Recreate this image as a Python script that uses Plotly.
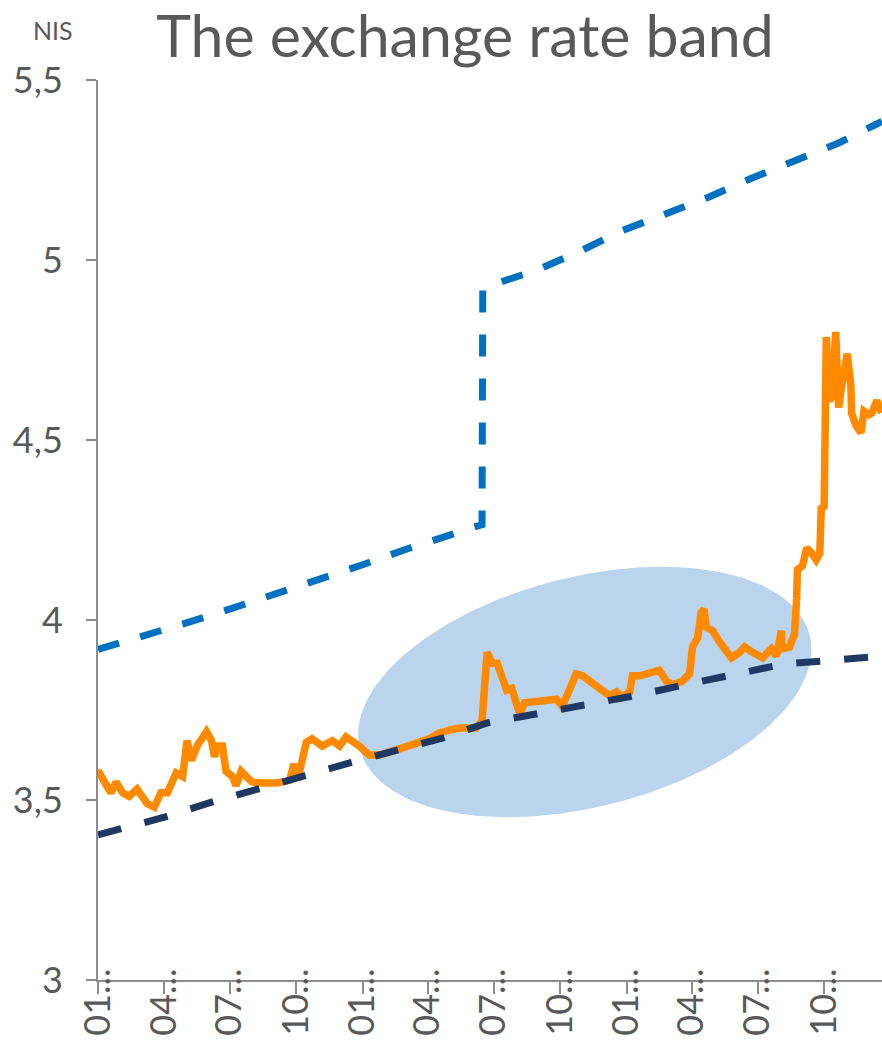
import numpy as np
import pandas as pd
import plotly.graph_objects as go

# Exchange rate, NIS (1996-1998)
rate_dates = [
    "1996-01-01", "1996-01-03", "1996-01-10", "1996-01-19", "1996-01-26", "1996-02-04",
    "1996-02-13", "1996-02-24", "1996-03-09", "1996-03-19", "1996-03-28", "1996-04-06",
    "1996-04-18", "1996-04-27", "1996-05-03", "1996-05-09", "1996-05-17", "1996-05-30",
    "1996-06-06", "1996-06-10", "1996-06-14", "1996-06-21", "1996-06-26", "1996-07-05",
    "1996-07-10", "1996-07-17", "1996-07-24", "1996-08-01", "1996-08-15", "1996-09-04",
    "1996-09-22", "1996-09-28", "1996-10-03", "1996-10-15", "1996-10-23", "1996-11-06",
    "1996-11-20", "1996-11-30", "1996-12-09", "1996-12-18", "1996-12-27", "1997-01-10",
    "1997-01-24", "1997-02-07", "1997-02-21", "1997-03-07", "1997-03-20", "1997-04-03",
    "1997-04-17", "1997-05-01", "1997-05-15", "1997-06-07", "1997-06-15", "1997-06-22",
    "1997-06-29", "1997-07-06", "1997-07-12", "1997-07-19", "1997-07-26", "1997-08-01",
    "1997-08-06", "1997-08-13", "1997-08-22", "1997-09-02", "1997-09-12", "1997-09-26",
    "1997-10-04", "1997-10-14", "1997-10-23", "1997-11-01", "1997-11-10", "1997-11-20",
    "1997-11-28", "1997-12-08", "1997-12-18", "1997-12-26", "1998-01-05", "1998-01-09",
    "1998-01-19", "1998-02-01", "1998-02-15", "1998-02-25", "1998-03-05", "1998-03-19",
    "1998-03-29", "1998-04-02", "1998-04-09", "1998-04-14", "1998-04-18", "1998-04-21",
    "1998-04-30", "1998-05-09", "1998-05-19", "1998-05-26", "1998-06-06", "1998-06-13",
    "1998-06-24", "1998-07-08", "1998-07-20", "1998-07-27", "1998-08-03", "1998-08-04",
    "1998-08-14", "1998-08-21", "1998-08-24", "1998-08-25", "1998-09-01", "1998-09-07",
    "1998-09-14", "1998-09-20", "1998-09-25", "1998-09-27", "1998-10-01", "1998-10-04",
    "1998-10-08", "1998-10-12", "1998-10-17", "1998-10-21", "1998-10-26", "1998-11-02",
    "1998-11-07", "1998-11-08", "1998-11-14", "1998-11-21", "1998-11-25", "1998-12-02",
    "1998-12-06", "1998-12-13", "1998-12-19",
]
rate_values = [
    3.575, 3.575, 3.55, 3.52, 3.55, 3.52,
    3.51, 3.53, 3.49, 3.48, 3.52, 3.52,
    3.575, 3.565, 3.665, 3.61, 3.65, 3.69,
    3.665, 3.62, 3.65, 3.65, 3.58, 3.565,
    3.54, 3.58, 3.565, 3.55, 3.547, 3.547,
    3.555, 3.60, 3.555, 3.66, 3.67, 3.65,
    3.665, 3.65, 3.675, 3.665, 3.65, 3.625,
    3.625, 3.633, 3.644, 3.653, 3.66, 3.67,
    3.686, 3.694, 3.70, 3.70, 3.72, 3.91,
    3.88, 3.88, 3.84, 3.805, 3.81, 3.77,
    3.74, 3.77, 3.772, 3.77, 3.772, 3.78,
    3.76, 3.805, 3.85, 3.845, 3.83, 3.82,
    3.80, 3.79, 3.80, 3.786, 3.80, 3.845,
    3.845, 3.85, 3.86, 3.83, 3.82, 3.83,
    3.85, 3.925, 3.95, 4.02, 4.03, 3.98,
    3.97, 3.94, 3.91, 3.895, 3.91, 3.925,
    3.91, 3.895, 3.92, 3.90, 3.97, 3.92,
    3.925, 3.96, 4.06, 4.14, 4.15, 4.20,
    4.185, 4.167, 4.185, 4.31, 4.315, 4.786,
    4.61, 4.62, 4.80, 4.59, 4.66, 4.74,
    4.65, 4.575, 4.54, 4.52, 4.58, 4.57,
    4.575, 4.61, 4.575,
]

# Upper limit of the band
upper_dates = [
    "1996-01-01", "1996-03-01", "1996-04-29", "1996-07-01", "1996-09-01", "1996-11-02",
    "1997-01-03", "1997-03-07", "1997-05-06", "1997-06-15", "1997-06-16", "1997-06-27",
    "1997-08-27", "1997-10-24", "1997-12-24", "1998-02-22", "1998-04-25", "1998-06-20",
    "1998-08-21", "1998-10-21", "1998-12-10", "1998-12-20",
]
upper_values = [
    3.918, 3.953, 3.99, 4.03, 4.07, 4.11,
    4.155, 4.20, 4.24, 4.265, 4.92, 4.93,
    4.97, 5.02, 5.08, 5.125, 5.175, 5.225,
    5.275, 5.325, 5.375, 5.385,
]

# Lower limit of the band
lower_dates = [
    "1996-01-01", "1996-04-03", "1996-06-06", "1996-08-10", "1996-10-12", "1996-12-14",
    "1997-02-14", "1997-04-21", "1997-06-22", "1997-09-02", "1997-11-10", "1998-01-13",
    "1998-03-22", "1998-05-30", "1998-08-07", "1998-10-17", "1998-12-20",
]
lower_values = [
    3.403, 3.453, 3.494, 3.533, 3.567, 3.603,
    3.638, 3.672, 3.714, 3.739, 3.764, 3.79,
    3.82, 3.85, 3.878, 3.889, 3.90,
]

# Axis ticks
tick_dates = [
    "1996-01-01", "1996-04-01", "1996-07-01", "1996-10-01",
    "1997-01-01", "1997-04-01", "1997-07-01", "1997-10-01",
    "1998-01-01", "1998-04-01", "1998-07-01", "1998-10-01",
]
tick_text = ["01...", "04...", "07...", "10..."] * 3
y_tick_vals = [3, 3.5, 4, 4.5, 5, 5.5]
y_tick_text = ["3", "3,5", "4", "4,5", "5", "5,5"]

# Figure geometry
W, H = 882, 1045
M = dict(l=98, r=0, t=80, b=65)
x_range = [pd.Timestamp("1996-01-01"), pd.Timestamp("1998-12-20")]
y_range = [3, 5.5]
px_per_day = (W - M["l"] - M["r"]) / (x_range[1] - x_range[0]).days
px_per_unit = (H - M["t"] - M["b"]) / (y_range[1] - y_range[0])

# Highlight ellipse around the period when the rate hugged the lower limit
ell_center_date = pd.Timestamp("1997-11-04")
ell_center_value = 3.80
ell_a, ell_b, ell_tilt = 232, 115, np.radians(14.2)   # semi-axes in px, tilt
phi = np.linspace(0, 2 * np.pi, 241)
ex = ell_a * np.cos(phi) * np.cos(ell_tilt) - ell_b * np.sin(phi) * np.sin(ell_tilt)
ey = ell_a * np.cos(phi) * np.sin(ell_tilt) + ell_b * np.sin(phi) * np.cos(ell_tilt)
ell_x = ell_center_date + pd.to_timedelta(ex / px_per_day, unit="D")
ell_y = ell_center_value + ey / px_per_unit

TEXT = "#595959"
AXIS = "#8C8C8C"
FONT = "Lato"

fig = go.Figure()
fig.add_trace(go.Scatter(
    x=ell_x, y=ell_y, mode="lines", fill="toself",
    fillcolor="#B9D4EC", line=dict(width=0), hoverinfo="skip", showlegend=False,
))
fig.add_trace(go.Scatter(
    x=pd.to_datetime(rate_dates), y=rate_values, mode="lines",
    line=dict(color="#FF8A00", width=7.5), name="Exchange rate", showlegend=False,
))
fig.add_trace(go.Scatter(
    x=pd.to_datetime(upper_dates), y=upper_values, mode="lines",
    line=dict(color="#0070C0", width=7, dash="22px,22px"), name="Upper limit", showlegend=False,
))
fig.add_trace(go.Scatter(
    x=pd.to_datetime(lower_dates), y=lower_values, mode="lines",
    line=dict(color="#1F3864", width=7, dash="24px,24px"), name="Lower limit", showlegend=False,
))

fig.update_layout(
    width=W, height=H, margin=M,
    paper_bgcolor="white", plot_bgcolor="white",
    font=dict(family=FONT, color=TEXT),
    title=dict(
        text="The exchange rate band",
        font=dict(family=FONT, size=59, color=TEXT),
        xref="container", yref="container",
        x=465 / W, xanchor="center", y=1 - 36 / H, yanchor="middle",
    ),
    annotations=[dict(
        text="NIS", xref="paper", yref="paper", x=-0.058, y=1 + 50 / 900,
        xanchor="center", yanchor="middle", showarrow=False,
        font=dict(family=FONT, size=25, color=TEXT),
    )],
    xaxis=dict(
        type="date", range=x_range, showgrid=False, zeroline=False,
        showline=True, linecolor=AXIS, linewidth=2,
        ticks="outside", ticklen=12, tickwidth=2, tickcolor=AXIS,
        tickvals=pd.to_datetime(tick_dates), ticktext=tick_text, tickangle=-90,
        tickfont=dict(family=FONT, size=36, color=TEXT),
        ticklabelstandoff=-40,
    ),
    yaxis=dict(
        range=y_range, showgrid=False, zeroline=False,
        showline=True, linecolor=AXIS, linewidth=2,
        ticks="outside", ticklen=10, tickwidth=2, tickcolor=AXIS,
        tickvals=y_tick_vals, ticktext=y_tick_text,
        tickfont=dict(family=FONT, size=36, color=TEXT),
        ticklabelstandoff=16,
    ),
)

fig.write_html("out.html")
